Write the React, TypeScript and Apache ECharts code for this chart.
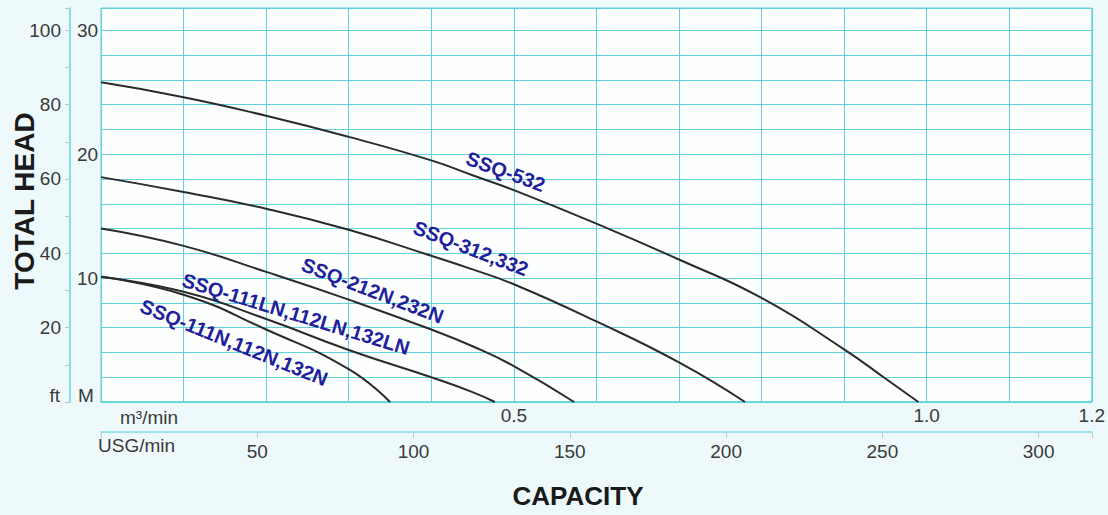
import React, { useEffect, useRef } from "react";
import * as echarts from "echarts";

// Capacity (m³/min) and total head (m)
const ssq532Q = [0, 0.1, 0.2, 0.3, 0.4, 0.45, 0.5, 0.6, 0.7, 0.8, 0.9, 0.95, 0.99];
const ssq532H = [25.8, 24.6, 23.1, 21.4, 19.5, 18.3, 17.1, 14.4, 11.5, 8.4, 4.25, 1.9, 0];

const ssq312Q = [0, 0.1, 0.2, 0.3, 0.4, 0.45, 0.5, 0.6, 0.7, 0.78];
const ssq312H = [18.15, 16.95, 15.6, 13.9, 11.8, 10.7, 9.5, 6.5, 3.2, 0];

const ssq212Q = [0, 0.1, 0.2, 0.3, 0.4, 0.45, 0.5, 0.573];
const ssq212H = [14.0, 12.6, 10.5, 8.26, 5.85, 4.5, 2.9, 0];

const ssq111LNQ = [0, 0.1, 0.2, 0.3, 0.4, 0.45, 0.477];
const ssq111LNH = [10.1, 8.9, 6.7, 4.2, 2.0, 0.8, 0];

const ssq111NQ = [0, 0.1, 0.2, 0.3, 0.35];
const ssq111NH = [10.1, 8.66, 5.85, 2.65, 0];

const seriesNames = [
  "SSQ-532",
  "SSQ-312,332",
  "SSQ-212N,232N",
  "SSQ-111LN,112LN,132LN",
  "SSQ-111N,112N,132N",
];
// label anchor [Q, H] and rotation (deg)
const labelAnchors = [
  [0.49, 18.6],
  [0.448, 12.4],
  [0.329, 9.0],
  [0.236, 7.1],
  [0.161, 4.8],
];
const labelAngles = [-20, -21, -21, -17, -22];

const m3Labels = [0.5, 1.0, 1.2];
const headMLabels = [10, 20, 30];
const headFtLabels = [20, 40, 60, 80, 100];

const M3_PER_USG = 0.003785411784;
const Q_MAX = 1.2;
const USG_MAX = Q_MAX / M3_PER_USG;

const CYAN = "#62d3dc";
const TXT = "#3a3a3a";
const BLUE = "#1f219c";

export default function App() {
  const ref = useRef<HTMLDivElement>(null);
  useEffect(() => {
    if (!ref.current) return;
    const chart = echarts.init(ref.current, null, { renderer: "svg" });
    const curves = [
      [ssq532Q, ssq532H],
      [ssq312Q, ssq312H],
      [ssq212Q, ssq212H],
      [ssq111LNQ, ssq111LNH],
      [ssq111NQ, ssq111NH],
    ];
    const font = "'Liberation Sans', Arial, sans-serif";
    chart.setOption({
      animation: false,
      backgroundColor: "#eef9fb",
      textStyle: { fontFamily: font },
      grid: {
        left: 101,
        right: 15,
        top: 8,
        bottom: 113,
        show: true,
        backgroundColor: "#fdfefe",
        borderColor: CYAN,
        borderWidth: 1,
      },
      xAxis: [
        {
          type: "value",
          min: 0,
          max: Q_MAX,
          interval: 0.1,
          position: "bottom",
          axisLine: { show: true, onZero: false, lineStyle: { color: CYAN, width: 1.5 } },
          axisTick: { show: false },
          splitLine: { show: true, lineStyle: { color: CYAN, width: 1 } },
          axisLabel: {
            margin: 4,
            fontSize: 19,
            color: TXT,
            fontFamily: font,
            formatter: (v: number) => {
              const hit = m3Labels.find((m) => Math.abs(m - v) < 1e-6);
              return hit !== undefined ? hit.toFixed(1) : "";
            },
          },
        },
        {
          type: "value",
          min: 0,
          max: USG_MAX,
          interval: 50,
          position: "bottom",
          offset: 30,
          axisLine: { show: true, onZero: false, lineStyle: { color: "#7fdbe3", width: 1.5 } },
          axisTick: { show: true, length: 6, lineStyle: { color: "#c8c8c8" } },
          splitLine: { show: false },
          axisLabel: {
            margin: 10,
            fontSize: 19,
            color: TXT,
            fontFamily: font,
            formatter: (v: number) =>
              v > 0 && Math.abs(v / 50 - Math.round(v / 50)) < 1e-6 ? String(Math.round(v)) : "",
          },
        },
      ],
      yAxis: [
        {
          type: "value",
          min: 0,
          max: 31.8,
          interval: 2,
          position: "left",
          offset: 31,
          axisLine: { show: true, onZero: false, lineStyle: { color: CYAN, width: 1.5 } },
          axisTick: { show: false },
          splitLine: { show: true, lineStyle: { color: CYAN, width: 1 } },
          axisLabel: {
            inside: true,
            margin: 7,
            fontSize: 19,
            color: TXT,
            fontFamily: font,
            formatter: (v: number) => {
              const hit = headMLabels.find((m) => Math.abs(m - v) < 1e-6);
              return hit !== undefined ? String(hit) : "";
            },
          },
        },
        {
          type: "value",
          min: 0,
          max: 106,
          interval: 10,
          position: "left",
          offset: 31,
          axisLine: { show: false, onZero: false },
          axisTick: { show: true, length: 5, lineStyle: { color: "#b8c4c6" } },
          splitLine: { show: false },
          axisLabel: {
            margin: 9,
            fontSize: 19,
            color: TXT,
            fontFamily: font,
            formatter: (v: number) => {
              const hit = headFtLabels.find((m) => Math.abs(m - v) < 1e-6);
              return hit !== undefined ? String(hit) : "";
            },
          },
        },
      ],
      series: curves.map(([q, h], i) => ({
        name: seriesNames[i],
        type: "line",
        xAxisIndex: 0,
        yAxisIndex: 0,
        data: q.map((x, k) => [x, h[k]]),
        smooth: 0.5,
        showSymbol: false,
        symbol: "none",
        lineStyle: { color: "#2b2b2b", width: 2 },
        silent: true,
        markPoint: {
          symbol: "circle",
          symbolSize: 0,
          silent: true,
          data: [
            {
              coord: labelAnchors[i],
              label: {
                show: true,
                position: "inside",
                formatter: seriesNames[i],
                rotate: labelAngles[i],
                color: BLUE,
                fontSize: 20,
                fontWeight: "bold",
                fontFamily: font,
              },
            },
          ],
        },
      })),
      graphic: [
        {
          type: "text",
          x: 24,
          y: 201,
          rotation: Math.PI / 2,
          style: {
            text: "TOTAL HEAD",
            fill: "#1a1a1a",
            font: `bold 28px ${font}`,
            align: "center",
            verticalAlign: "middle",
          },
        },
        {
          type: "text",
          x: 578,
          y: 496,
          style: {
            text: "CAPACITY",
            fill: "#1a1a1a",
            font: `bold 26px ${font}`,
            align: "center",
            verticalAlign: "middle",
          },
        },
        {
          type: "text",
          x: 60,
          y: 395,
          style: { text: "ft", fill: TXT, font: `19px ${font}`, align: "right", verticalAlign: "middle" },
        },
        {
          type: "text",
          x: 78,
          y: 395,
          style: { text: "M", fill: TXT, font: `19px ${font}`, align: "left", verticalAlign: "middle" },
        },
        {
          type: "text",
          x: 120,
          y: 417,
          style: { text: "m³/min", fill: TXT, font: `19px ${font}`, align: "left", verticalAlign: "middle" },
        },
        {
          type: "text",
          x: 98,
          y: 445,
          style: { text: "USG/min", fill: TXT, font: `19px ${font}`, align: "left", verticalAlign: "middle" },
        },
      ],
    });
    return () => chart.dispose();
  }, []);
  return (
    <div
      ref={ref}
      style={{ position: "fixed", left: 0, top: 0, width: 1108, height: 515 }}
    />
  );
}
